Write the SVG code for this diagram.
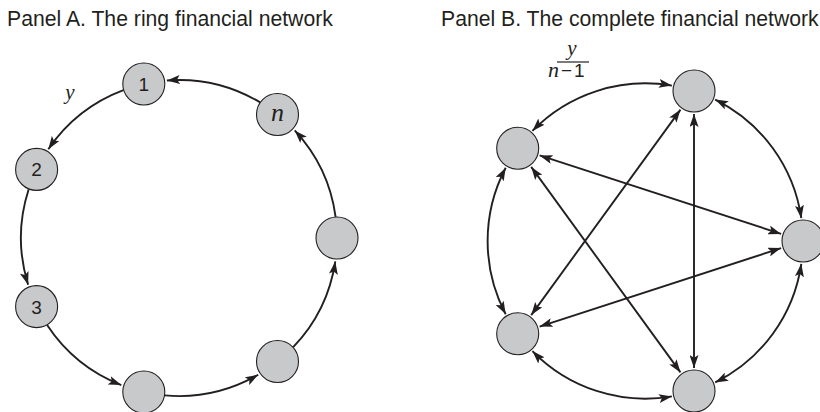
<svg xmlns="http://www.w3.org/2000/svg" width="820" height="412" viewBox="0 0 820 412">
<defs>
<marker id="ah" viewBox="0 0 13 9" markerWidth="13" markerHeight="9" refX="13" refY="4.5" orient="auto-start-reverse" markerUnits="userSpaceOnUse">
<path d="M0,0 L13,4.5 L0,9 L2.8,4.5 z" fill="#231f20"/>
</marker>
</defs>
<style>
.title{font-family:"Liberation Sans",Arial,sans-serif;font-size:21.2px;fill:#231f20}
.node circle{fill:#c8c9cb;stroke:#231f20;stroke-width:1.1}
.lbl{font-family:"Liberation Sans",Arial,sans-serif;font-size:19px;fill:#231f20;text-anchor:middle}
.it{font-family:"Liberation Serif","Times New Roman",serif;font-style:italic;fill:#231f20}
.e{fill:none;stroke:#231f20;stroke-width:1.9;marker-end:url(#ah)}
.b{marker-start:url(#ah)}
</style>
<rect width="820" height="412" fill="#ffffff"/>
<text class="title" x="7" y="26">Panel A. The ring financial network</text>
<text class="title" x="441" y="26">Panel B. The complete financial network</text>

<g id="connectors">
<path class="e" d="M260.1,102.4 A158,158 0 0 0 166.9,80.5"/>
<path class="e" d="M123.4,90.1 A158,158 0 0 0 48.3,149.2"/>
<path class="e" d="M28.7,189.2 A158,158 0 0 0 28.1,284.7"/>
<path class="e" d="M47.1,325.0 A158,158 0 0 0 121.3,385.1"/>
<path class="e" d="M164.7,395.4 A158,158 0 0 0 258.2,374.7"/>
<path class="e" d="M293.2,347.2 A158,158 0 0 0 335.3,261.4"/>
<path class="e" d="M335.6,216.8 A158,158 0 0 0 294.7,130.4"/>

<path class="e b" d="M671.9,85.6 A157.7,157.7 0 0 0 532.4,130.9"/>
<path class="e b" d="M715.2,99.6 A157.7,157.7 0 0 1 801.3,218.2"/>
<path class="e b" d="M801.3,263.8 A157.7,157.7 0 0 1 715.2,382.4"/>
<path class="e b" d="M671.9,396.4 A157.7,157.7 0 0 1 532.4,351.1"/>
<path class="e b" d="M505.7,314.3 A157.7,157.7 0 0 1 505.7,167.7"/>
<path class="e b" d="M680.5,109.6 L531.2,315.1"/>
<path class="e b" d="M694,114 L694,368"/>
<path class="e b" d="M539.6,155.4 L781.1,233.9"/>
<path class="e b" d="M531.2,166.9 L680.5,372.4"/>
<path class="e b" d="M781.1,248.1 L539.6,326.6"/>
</g>

<text class="it" x="70" y="99" font-size="21" text-anchor="middle">y</text>
<g id="frac-label">
<text class="it" x="572" y="55" font-size="21" text-anchor="middle">y</text>
<line x1="557" y1="62" x2="589" y2="62" stroke="#231f20" stroke-width="1.2"/>
<text x="548" y="77" font-size="22" fill="#231f20"><tspan class="it">n</tspan><tspan font-family="Liberation Sans, Arial, sans-serif" font-size="19" dx="2">−</tspan><tspan font-family="Liberation Sans, Arial, sans-serif" font-size="19" dx="2">1</tspan></text>
</g>

<g id="nodeA1" class="node"><circle cx="143.8" cy="84" r="21"/><text class="lbl" x="143.8" y="91">1</text></g>
<g id="nodeAn" class="node"><circle cx="277.5" cy="114.5" r="21"/><text class="it" x="277.5" y="121" font-size="26" text-anchor="middle">n</text></g>
<g id="nodeAR" class="node"><circle cx="337" cy="238" r="21"/></g>
<g id="nodeALR" class="node"><circle cx="277.5" cy="361.5" r="21"/></g>
<g id="nodeAB" class="node"><circle cx="143.8" cy="392" r="21"/></g>
<g id="nodeA3" class="node"><circle cx="36.6" cy="306.6" r="21"/><text class="lbl" x="36.6" y="313.5">3</text></g>
<g id="nodeA2" class="node"><circle cx="36.6" cy="169.4" r="21"/><text class="lbl" x="36.6" y="176.3">2</text></g>

<g id="nodeBT" class="node"><circle cx="694" cy="91" r="21"/></g>
<g id="nodeBLU" class="node"><circle cx="517.7" cy="148.3" r="21"/></g>
<g id="nodeBLL" class="node"><circle cx="517.7" cy="333.7" r="21"/></g>
<g id="nodeBB" class="node"><circle cx="694" cy="391" r="21"/></g>
<g id="nodeBR" class="node"><circle cx="803" cy="241" r="21"/></g>
</svg>
